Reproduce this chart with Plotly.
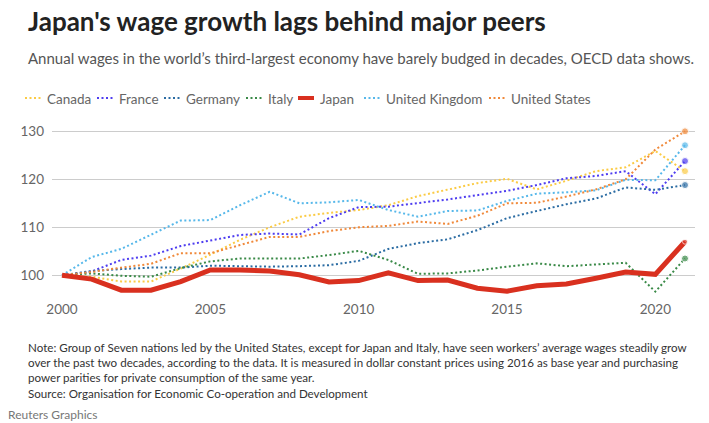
import plotly.graph_objects as go

years = list(range(2000, 2022))

canada = [100, 99.7, 98.7, 98.7, 101.4, 104.3, 107.4, 110.0, 112.2, 113.0, 113.6, 114.6,
          116.5, 117.8, 119.2, 120.1, 117.9, 119.7, 121.7, 122.5, 125.9, 121.7]
france = [100, 100.8, 103.2, 104.1, 106.1, 107.2, 108.4, 108.7, 108.5, 111.9, 114.2, 114.3,
          115.0, 115.8, 116.7, 117.6, 118.8, 120.2, 120.7, 121.7, 116.9, 123.8]
germany = [100, 100.9, 101.3, 101.6, 101.6, 102.0, 101.9, 101.8, 101.9, 102.1, 103.0, 105.5,
           106.7, 107.5, 109.4, 111.9, 113.4, 114.8, 116.0, 118.3, 117.8, 118.8]
italy = [100, 100.4, 99.9, 99.7, 101.5, 102.9, 103.5, 103.5, 103.5, 104.2, 105.1, 103.2,
         100.3, 100.4, 101.0, 101.8, 102.5, 101.9, 102.3, 102.6, 96.6, 103.5]
japan = [100, 99.2, 96.9, 96.9, 98.7, 101.1, 101.1, 100.9, 100.1, 98.6, 98.9, 100.5,
         98.9, 99.0, 97.3, 96.7, 97.8, 98.2, 99.4, 100.7, 100.2, 107.0]
uk = [100, 103.8, 105.5, 108.4, 111.4, 111.5, 114.6, 117.4, 115.0, 115.2, 115.7, 113.6,
      112.2, 113.4, 113.5, 115.5, 117.0, 117.3, 117.7, 119.9, 119.8, 127.1]
us = [100, 100.7, 101.6, 102.4, 104.6, 104.6, 106.3, 108.0, 108.0, 109.2, 110.0, 110.3,
      111.2, 110.7, 112.4, 115.0, 115.1, 116.4, 117.9, 120.0, 126.2, 130.0]

names = ["Canada", "France", "Germany", "Italy", "Japan", "United Kingdom", "United States"]
series = [canada, france, germany, italy, japan, uk, us]
colors = ["#fbcb45", "#4e3df0", "#2b6ca3", "#3a8a48", "#d9301f", "#57b8ea", "#f0893a"]

y_ticks = [100, 110, 120, 130]
x_ticks = [2000, 2005, 2010, 2015, 2020]

title = "Japan's wage growth lags behind major peers"
subtitle = "Annual wages in the world\u2019s third-largest economy have barely budged in decades, OECD data shows."
note_lines = [
    "Note: Group of Seven nations led by the United States, except for Japan and Italy, have seen workers\u2019 average wages steadily grow",
    "over the past two decades, according to the data. It is measured in dollar constant prices using 2016 as base year and purchasing",
    "power parities for private consumption of the same year.",
    "Source: Organisation for Economic Co-operation and Development",
]
credit = "Reuters Graphics"

W, H = 709, 423
L, R, T, B = 52, 14, 120, 127
PW, PH = W - L - R, H - T - B

def px(x):
    return (x - L) / PW

def py(y):
    return (H - B - y) / PH

FONT = "Lato"

fig = go.Figure()
order = [0, 1, 2, 3, 5, 6, 4]
for i in order:
    vals = series[i]
    is_japan = names[i] == "Japan"
    fig.add_trace(go.Scatter(
        x=years, y=vals, name=names[i], mode="lines+markers",
        line=dict(color=colors[i], width=5 if is_japan else 2,
                  dash="solid" if is_japan else "2px,2.5px"),
        marker=dict(color=colors[i], size=[0] * (len(vals) - 1) + [7 if not is_japan else 5]),
        showlegend=False, hoverinfo="skip",
    ))

annotations = []
shapes = []
annotations.append(dict(text="<b>" + title + "</b>", x=px(26), y=py(21), xref="paper", yref="paper",
                        xanchor="left", yanchor="middle", showarrow=False,
                        font=dict(family=FONT, size=26, color="#222222")))
annotations.append(dict(text=subtitle, x=px(26), y=py(58), xref="paper", yref="paper",
                        xanchor="left", yanchor="middle", showarrow=False,
                        font=dict(family=FONT, size=15, color="#555555")))

leg_sample_x = [25, 97, 164, 246, 298, 364, 489]
for i, name in enumerate(names):
    x0 = leg_sample_x[i]
    is_japan = name == "Japan"
    shapes.append(dict(type="line", xref="paper", yref="paper",
                       x0=px(x0), x1=px(x0 + 16), y0=py(98), y1=py(98),
                       line=dict(color=colors[i], width=4 if is_japan else 2,
                                 dash="solid" if is_japan else "2px,2.5px")))
    annotations.append(dict(text=name, x=px(x0 + 20), y=py(98.5), xref="paper", yref="paper",
                            xanchor="left", yanchor="middle", showarrow=False,
                            font=dict(family=FONT, size=13.5, color="#666666")))

note_y = [347, 362, 377, 393]
for t, yy in zip(note_lines, note_y):
    annotations.append(dict(text=t, x=px(26), y=py(yy), xref="paper", yref="paper",
                            xanchor="left", yanchor="middle", showarrow=False,
                            font=dict(family=FONT, size=11.6, color="#333333")))
annotations.append(dict(text=credit, x=px(6), y=py(414), xref="paper", yref="paper",
                        xanchor="left", yanchor="middle", showarrow=False,
                        font=dict(family=FONT, size=12, color="#777777")))

x_pad = 10 / 29.67
fig.update_layout(
    width=W, height=H,
    margin=dict(l=L, r=R, t=T, b=B, autoexpand=False),
    paper_bgcolor="white", plot_bgcolor="white",
    font=dict(family=FONT, color="#666666", size=13.5),
    annotations=annotations, shapes=shapes,
    xaxis=dict(range=[2000 - x_pad, 2021 + x_pad], tickvals=x_ticks, showgrid=False,
               zeroline=False, showline=False, ticks="", ticklabelstandoff=3,
               tickfont=dict(size=13.5, color="#666666")),
    yaxis=dict(range=[100 + (275.3 - 296) / 4.8, 100 + (275.3 - 120) / 4.8], tickvals=y_ticks,
               showgrid=True, gridcolor="#cccccc", gridwidth=1, zeroline=False, showline=False,
               ticks="", ticklabelstandoff=7, tickfont=dict(size=13.5, color="#666666")),
    showlegend=False,
)

fig.write_html("out.html")
